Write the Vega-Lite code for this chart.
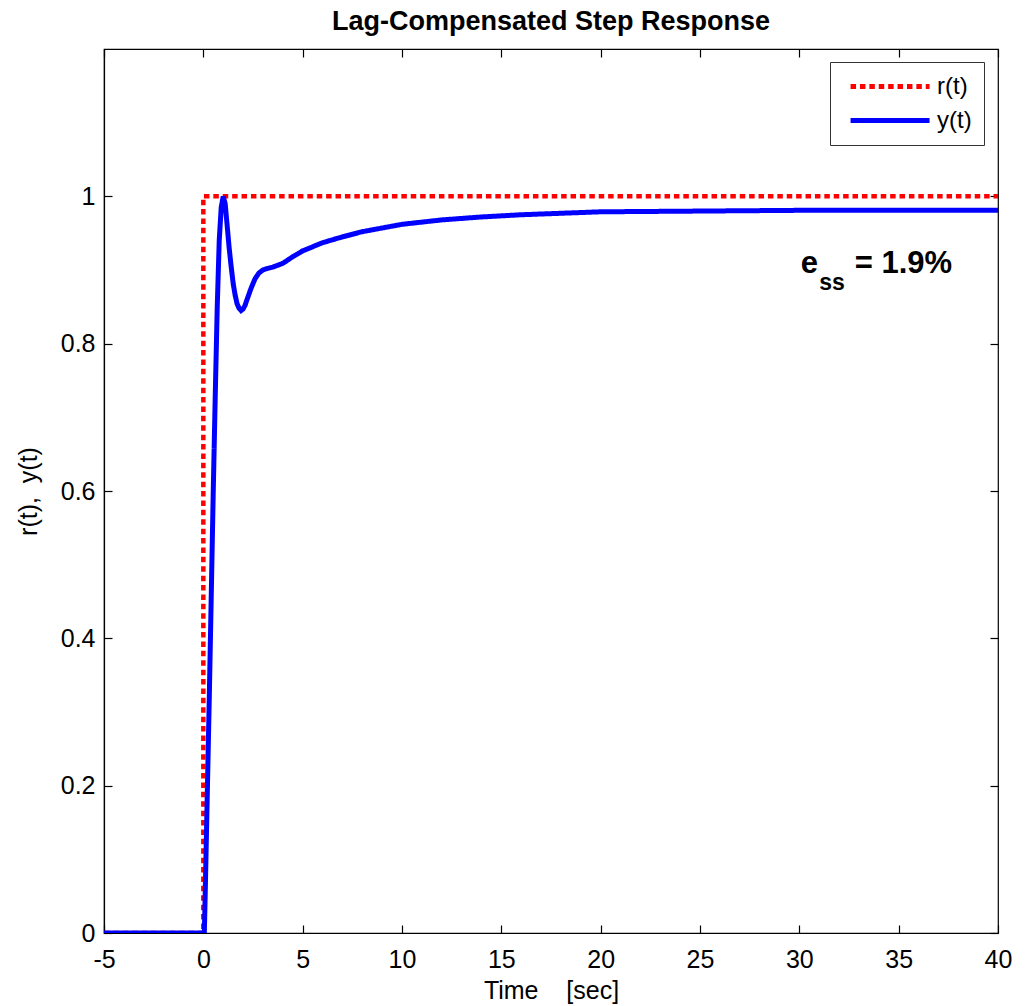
{
  "$schema": "https://vega.github.io/schema/vega-lite/v6.json",
  "width": 894,
  "height": 884,
  "autosize": {"type": "none"},
  "padding": {"left": 104, "top": 49, "right": 30, "bottom": 73},
  "background": "white",
  "title": {"text": "Lag-Compensated Step Response", "font": "Liberation Sans", "fontSize": 27, "fontWeight": "bold", "color": "black", "offset": 12, "anchor": "middle"},
  "config": {
    "view": {"stroke": "black", "strokeWidth": 1.2},
    "axis": {"grid": false, "domainColor": "black", "tickColor": "black", "labelColor": "black", "titleColor": "black", "labelFont": "Liberation Sans", "titleFont": "Liberation Sans", "labelFontSize": 25, "titleFontSize": 25, "titleFontWeight": "normal", "tickSize": -8, "domainWidth": 1.2, "tickWidth": 1.2},
    "legend": {"labelFont": "Liberation Sans"}
  },
  "datasets": {
    "ref": [
      {"i": 0, "t": -5, "v": 0, "series": "r(t)"},
      {"i": 1, "t": 0, "v": 0, "series": "r(t)"},
      {"i": 2, "t": 0, "v": 1, "series": "r(t)"},
      {"i": 3, "t": 40, "v": 1, "series": "r(t)"}
    ],
    "out": [
      {"t": -5, "v": 0, "series": "y(t)"},
      {"t": 0, "v": 0, "series": "y(t)"},
      {"t": 0.05, "v": 0, "series": "y(t)"},
      {"t": 0.1, "v": 0.06, "series": "y(t)"},
      {"t": 0.2, "v": 0.19, "series": "y(t)"},
      {"t": 0.3, "v": 0.32, "series": "y(t)"},
      {"t": 0.4, "v": 0.46, "series": "y(t)"},
      {"t": 0.5, "v": 0.6, "series": "y(t)"},
      {"t": 0.6, "v": 0.73, "series": "y(t)"},
      {"t": 0.7, "v": 0.85, "series": "y(t)"},
      {"t": 0.8, "v": 0.94, "series": "y(t)"},
      {"t": 0.9, "v": 0.985, "series": "y(t)"},
      {"t": 1.0, "v": 1.0, "series": "y(t)"},
      {"t": 1.1, "v": 0.99, "series": "y(t)"},
      {"t": 1.2, "v": 0.96, "series": "y(t)"},
      {"t": 1.3, "v": 0.93, "series": "y(t)"},
      {"t": 1.4, "v": 0.905, "series": "y(t)"},
      {"t": 1.5, "v": 0.882, "series": "y(t)"},
      {"t": 1.6, "v": 0.866, "series": "y(t)"},
      {"t": 1.7, "v": 0.854, "series": "y(t)"},
      {"t": 1.8, "v": 0.848, "series": "y(t)"},
      {"t": 1.9, "v": 0.845, "series": "y(t)"},
      {"t": 2.0, "v": 0.847, "series": "y(t)"},
      {"t": 2.1, "v": 0.852, "series": "y(t)"},
      {"t": 2.2, "v": 0.86, "series": "y(t)"},
      {"t": 2.4, "v": 0.875, "series": "y(t)"},
      {"t": 2.6, "v": 0.888, "series": "y(t)"},
      {"t": 2.8, "v": 0.896, "series": "y(t)"},
      {"t": 3.0, "v": 0.9, "series": "y(t)"},
      {"t": 3.2, "v": 0.902, "series": "y(t)"},
      {"t": 3.5, "v": 0.904, "series": "y(t)"},
      {"t": 4.0, "v": 0.909, "series": "y(t)"},
      {"t": 4.5, "v": 0.918, "series": "y(t)"},
      {"t": 5, "v": 0.926, "series": "y(t)"},
      {"t": 6, "v": 0.937, "series": "y(t)"},
      {"t": 7, "v": 0.945, "series": "y(t)"},
      {"t": 8, "v": 0.952, "series": "y(t)"},
      {"t": 9, "v": 0.957, "series": "y(t)"},
      {"t": 10, "v": 0.962, "series": "y(t)"},
      {"t": 12, "v": 0.968, "series": "y(t)"},
      {"t": 14, "v": 0.972, "series": "y(t)"},
      {"t": 16, "v": 0.975, "series": "y(t)"},
      {"t": 18, "v": 0.977, "series": "y(t)"},
      {"t": 20, "v": 0.979, "series": "y(t)"},
      {"t": 25, "v": 0.98, "series": "y(t)"},
      {"t": 30, "v": 0.981, "series": "y(t)"},
      {"t": 40, "v": 0.981, "series": "y(t)"}
    ],
    "notes": [
      {"t": 30.07, "v": 0.8955, "label": "e", "part": "main"},
      {"t": 31.0, "v": 0.873, "label": "ss", "part": "sub"},
      {"t": 32.79, "v": 0.8955, "label": "= 1.9%", "part": "main2"}
    ]
  },
  "resolve": {"axis": {"x": "independent", "y": "independent"}},
  "layer": [
    {
      "data": {"name": "ref"},
      "mark": {"type": "line", "strokeWidth": 4.5, "clip": true},
      "encoding": {
        "x": {"field": "t", "type": "quantitative", "scale": {"domain": [-5, 40], "nice": false, "zero": false},
              "axis": {"orient": "bottom", "values": [-5, 0, 5, 10, 15, 20, 25, 30, 35, 40], "labelExpr": "'' + datum.value", "title": "Time\u00a0\u00a0\u00a0\u00a0[sec]", "labelPadding": 22, "titlePadding": 6, "labelFlush": false}},
        "y": {"field": "v", "type": "quantitative", "scale": {"domain": [0, 1.2], "nice": false},
              "axis": {"orient": "left", "values": [0, 0.2, 0.4, 0.6, 0.8, 1], "labelExpr": "'' + datum.value", "title": "r(t),\u00a0\u00a0y(t)", "labelPadding": 17, "titlePadding": 19, "labelFlush": false}},
        "order": {"field": "i", "type": "quantitative"},
        "color": {"field": "series", "type": "nominal",
                  "scale": {"domain": ["r(t)", "y(t)"], "range": ["#ff0000", "#0000ff"]},
                  "legend": {"orient": "none", "legendX": 726, "legendY": 13, "title": null, "symbolType": "M-0.4,0H7.6", "symbolSize": 390, "symbolStrokeWidth": 5, "labelFontSize": 24, "labelColor": "black", "strokeColor": "#333", "fillColor": "white", "padding": 12, "rowPadding": 9, "labelOffset": 70, "symbolOffset": 0}},
        "strokeDash": {"field": "series", "type": "nominal",
                  "scale": {"domain": ["r(t)", "y(t)"], "range": [[5.5, 3.9], [1, 0]]}}
      }
    },
    {
      "data": {"name": "out"},
      "mark": {"type": "line", "strokeWidth": 5, "clip": true},
      "encoding": {
        "x": {"field": "t", "type": "quantitative",
              "axis": {"orient": "top", "values": [-5, 0, 5, 10, 15, 20, 25, 30, 35, 40], "labels": false, "title": null, "domain": false}},
        "y": {"field": "v", "type": "quantitative",
              "axis": {"orient": "right", "values": [0, 0.2, 0.4, 0.6, 0.8, 1], "labels": false, "title": null, "domain": false}},
        "color": {"field": "series", "type": "nominal"},
        "strokeDash": {"field": "series", "type": "nominal"}
      }
    },
    {
      "data": {"name": "notes"},
      "transform": [{"filter": "datum.part !== 'sub'"}],
      "mark": {"type": "text", "align": "left", "baseline": "alphabetic", "font": "Liberation Sans", "fontSize": 31, "fontWeight": "bold", "color": "black"},
      "encoding": {
        "x": {"field": "t", "type": "quantitative", "axis": null},
        "y": {"field": "v", "type": "quantitative", "axis": null},
        "text": {"field": "label"}
      }
    },
    {
      "data": {"name": "notes"},
      "transform": [{"filter": "datum.part === 'sub'"}],
      "mark": {"type": "text", "align": "left", "baseline": "alphabetic", "font": "Liberation Sans", "fontSize": 23, "fontWeight": "bold", "color": "black"},
      "encoding": {
        "x": {"field": "t", "type": "quantitative", "axis": null},
        "y": {"field": "v", "type": "quantitative", "axis": null},
        "text": {"field": "label"}
      }
    }
  ]
}
